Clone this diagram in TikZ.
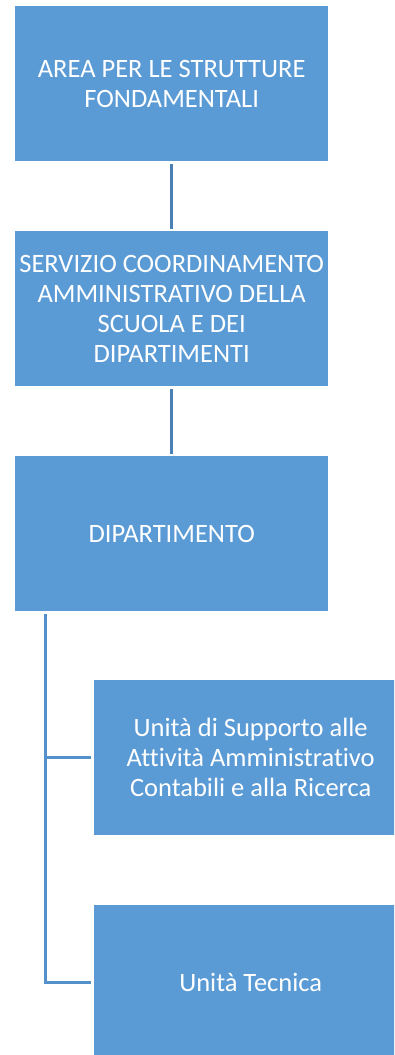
\documentclass[tikz,border=0pt]{standalone}
\usepackage{fontspec}
\setmainfont[Ligatures={NoCommon}]{Carlito}
\definecolor{boxblue}{HTML}{5B9BD5}
\definecolor{lineblue}{HTML}{4A80B5}
\definecolor{lineblue2}{HTML}{5490CA}
\begin{document}
\begin{tikzpicture}[x=1pt,y=-1pt,
  orgbox/.style={fill=boxblue, draw=none, minimum width=313pt, minimum height=155pt,
    text=white, align=center, inner sep=1pt, anchor=north west,
    font=\fontsize{26.5}{30}\selectfont},
  conn/.style={draw=lineblue, line width=3pt},
  conn2/.style={draw=lineblue2, line width=3pt}]
\useasboundingbox (0,0) rectangle (394,1055);
\clip (0,0) rectangle (394,1055);
\node[orgbox] (a) at (15,6) {AREA PER LE STRUTTURE\\FONDAMENTALI};
\node[orgbox] (b) at (15,231) {SERVIZIO COORDINAMENTO\\AMMINISTRATIVO DELLA\\SCUOLA E DEI\\DIPARTIMENTI};
\node[orgbox] (c) at (15,456) {DIPARTIMENTO};
\node[orgbox] (d) at (94,680) {Unità di Supporto alle\\Attività Amministrativo\\Contabili e alla Ricerca};
\node[orgbox] (e) at (94,905) {Unità Tecnica};
\draw[conn] ([yshift=-3pt]a.south) -- ([yshift=2pt]b.north);
\draw[conn] ([yshift=-3pt]b.south) -- ([yshift=2pt]c.north);
\coordinate (top) at ([xshift=30.5pt,yshift=-3pt]c.south west);
\draw[conn2] (top) |- ([xshift=-3pt]d.west);
\draw[conn2] (top) |- ([xshift=-3pt]e.west);
\end{tikzpicture}
\end{document}
